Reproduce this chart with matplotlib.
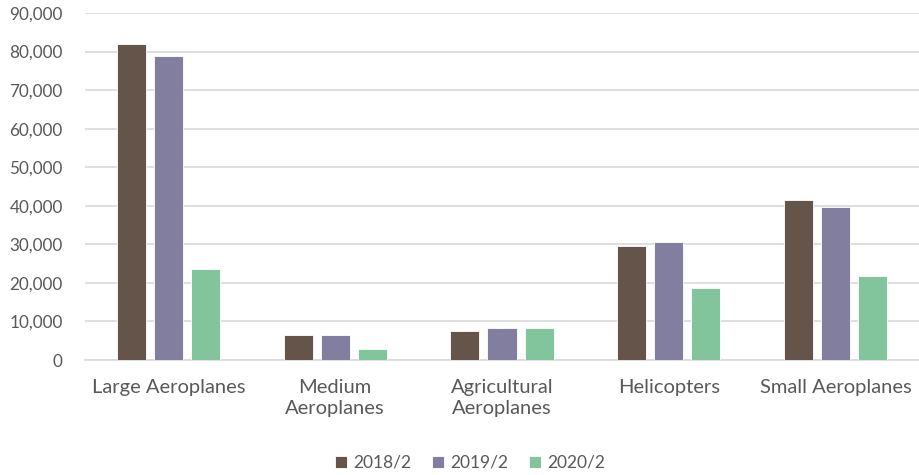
import matplotlib.pyplot as plt
import numpy as np
from matplotlib.ticker import FuncFormatter

categories = ['Large Aeroplanes', 'Medium\nAeroplanes', 'Agricultural\nAeroplanes',
              'Helicopters', 'Small Aeroplanes']
series = ['2018/2', '2019/2', '2020/2']
v2018 = [81900, 6500, 7600, 29700, 41400]
v2019 = [78800, 6600, 8400, 30500, 39600]
v2020 = [23500, 2900, 8200, 18600, 21900]
colors = ['#64544A', '#817E9F', '#82C49C']

plt.rcParams['font.family'] = ['Lato', 'DejaVu Sans']
grey = '#595959'

fig = plt.figure(figsize=(9.19, 4.75), dpi=100)
ax = fig.add_axes([0.0925, 0.242, 0.9075, 0.7306])

x = np.arange(len(categories))
width = 0.174
step = 0.222
for i, (vals, name) in enumerate(zip([v2018, v2019, v2020], series)):
    ax.bar(x + (i - 1) * step, vals, width, color=colors[i], label=name,
           edgecolor='white', linewidth=0.6, zorder=3)

ax.set_xlim(-0.5, len(categories) - 0.5)
ax.set_ylim(0, 90000)
ax.set_yticks(np.arange(0, 90001, 10000))
ax.yaxis.set_major_formatter(FuncFormatter(lambda v, p: f'{int(v):,}'))
ax.grid(axis='y', color='#D9D9D9', linewidth=1.2, zorder=0)
for s in ['top', 'right', 'left']:
    ax.spines[s].set_visible(False)
ax.spines['bottom'].set_color('#D9D9D9')
ax.spines['bottom'].set_linewidth(1.2)
ax.set_xticks(x)
ax.set_xticklabels(categories, linespacing=1.28)
ax.tick_params(axis='both', length=0, colors=grey)
ax.tick_params(axis='x', pad=13.5, labelsize=14.5)
ax.tick_params(axis='y', pad=16, labelsize=12.3)

fig.legend(loc='center', bbox_to_anchor=(0.5114, 0.0253), ncol=3, frameon=False,
           fontsize=12.5, labelcolor=grey, handlelength=0.69, handleheight=0.69,
           handletextpad=0.35, columnspacing=1.2, borderaxespad=0)

plt.savefig('out.png', dpi=100)
